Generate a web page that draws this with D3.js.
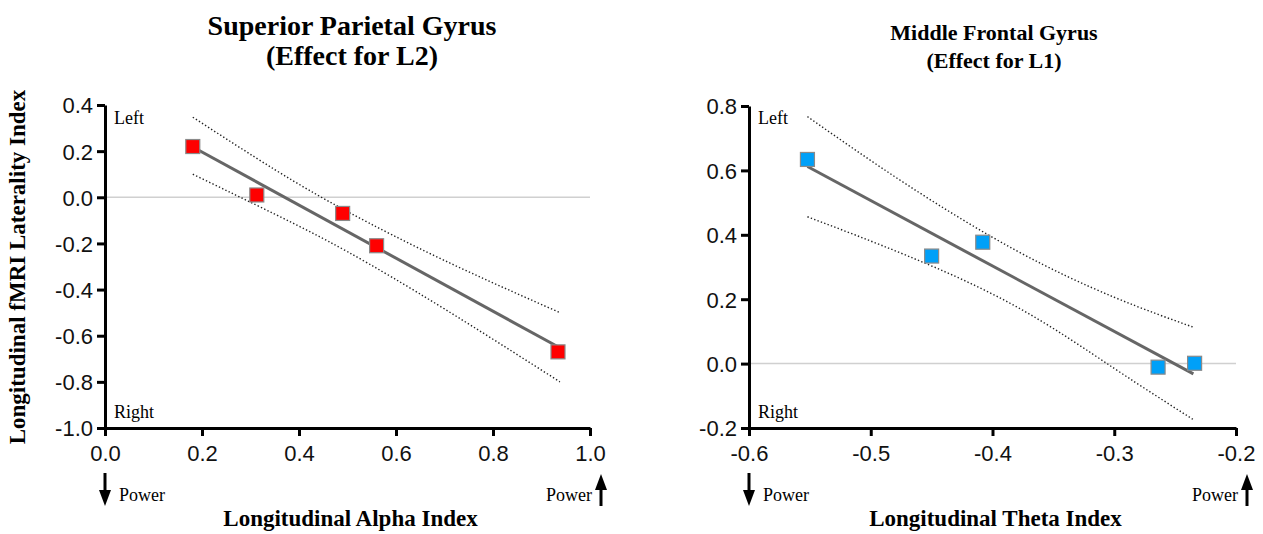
<!DOCTYPE html>
<html>
<head>
<meta charset="utf-8">
<script src="https://cdn.jsdelivr.net/npm/d3@7"></script>
<style>
  body { margin: 0; background: #fff; }
  svg { display: block; }
  .serif { font-family: "Liberation Serif", "DejaVu Serif", serif; }
  .tick text { font-family: "Liberation Sans", Arial, sans-serif; font-size: 22px; fill: #111; }
</style>
</head>
<body>
<svg id="chart" width="1263" height="534"></svg>
<script>
// left panel: Superior Parietal Gyrus (L2)
var alphaX = [0.181, 0.313, 0.49, 0.56, 0.934];
var alphaY = [0.22, 0.01, -0.07, -0.21, -0.67];
var alphaFit = [[0.181, 0.218], [0.934, -0.648]];
var alphaUpper = [[0.181, 0.347], [0.35, 0.12], [0.5, -0.062], [0.7, -0.274], [0.938, -0.50]];
var alphaLower = [[0.181, 0.10], [0.35, -0.073], [0.5, -0.236], [0.7, -0.484], [0.938, -0.80]];
var alphaXTicks = [0, 0.2, 0.4, 0.6, 0.8, 1.0];
var alphaYTicks = [0.4, 0.2, 0, -0.2, -0.4, -0.6, -0.8, -1.0];

// right panel: Middle Frontal Gyrus (L1)
var thetaX = [-0.552, -0.45, -0.408, -0.264, -0.234];
var thetaY = [0.634, 0.334, 0.377, -0.011, 0.001];
var thetaFit = [[-0.552, 0.612], [-0.235, -0.032]];
var thetaUpper = [[-0.552, 0.767], [-0.47, 0.555], [-0.38, 0.35], [-0.30, 0.206], [-0.235, 0.113]];
var thetaLower = [[-0.552, 0.456], [-0.47, 0.335], [-0.38, 0.176], [-0.30, -0.015], [-0.235, -0.174]];
var thetaXTicks = [-0.6, -0.5, -0.4, -0.3, -0.2];
var thetaYTicks = [0.8, 0.6, 0.4, 0.2, 0, -0.2];

var svg = d3.select("#chart");
var fmt = d => d3.format(".1f")(d).replace("\u2212", "-");

function drawPanel(opt) {
    var x = d3.scaleLinear().domain(opt.xDomain).range([opt.left, opt.right]);
    var y = d3.scaleLinear().domain(opt.yDomain).range([opt.bottom, opt.top]);
    var g = svg.append("g");

    // zero line
    g.append("line")
        .attr("x1", x(opt.xDomain[0])).attr("x2", x(opt.xDomain[1]))
        .attr("y1", y(0)).attr("y2", y(0))
        .attr("stroke", "#d0d0d0").attr("stroke-width", 1.5);

    var line = d3.line().x(d => x(d[0])).y(d => y(d[1]));
    var curve = d3.line().x(d => x(d[0])).y(d => y(d[1])).curve(d3.curveNatural);

    for (let band of [opt.upper, opt.lower]) {
        g.append("path").attr("d", curve(band))
            .attr("fill", "none").attr("stroke", "#222")
            .attr("stroke-width", 1.4).attr("stroke-dasharray", "1.4,2.2");
    }

    g.append("path").attr("d", line(opt.fit))
        .attr("fill", "none").attr("stroke", "#666").attr("stroke-width", 3);

    var pts = opt.xs.map((v, i) => [v, opt.ys[i]]);
    g.selectAll("rect.pt").data(pts).enter().append("rect")
        .attr("class", "pt")
        .attr("x", d => x(d[0]) - 7).attr("y", d => y(d[1]) - 7)
        .attr("width", 14).attr("height", 14)
        .attr("fill", opt.color).attr("stroke", "#8a8a8a").attr("stroke-width", 1.2);

    // axes
    var ax = g.append("g").attr("transform", "translate(0," + opt.bottom + ")")
        .call(d3.axisBottom(x).tickValues(opt.xTicks).tickFormat(fmt).tickSize(8).tickSizeOuter(0).tickPadding(9));
    var ay = g.append("g").attr("transform", "translate(" + opt.left + ",0)")
        .call(d3.axisLeft(y).tickValues(opt.yTicks).tickFormat(fmt).tickSize(8).tickSizeOuter(0).tickPadding(4));
    for (let a of [ax, ay]) {
        a.select(".domain").attr("stroke", "#000").attr("stroke-width", 3);
        a.selectAll(".tick line").attr("stroke", "#000").attr("stroke-width", 3);
    }
    ax.selectAll(".tick text").attr("dy", "0.71em");
    ay.selectAll(".tick text").attr("dy", "0.36em");

    // titles
    var cx = (opt.left + opt.right) / 2;
    opt.title.forEach((t, i) => {
        g.append("text").attr("class", "serif")
            .attr("x", opt.titleX).attr("y", opt.titleY[i])
            .attr("text-anchor", "middle").attr("font-weight", "bold")
            .attr("font-size", opt.titleSize).text(t);
    });
    g.append("text").attr("class", "serif")
        .attr("x", cx + 3).attr("y", 526).attr("text-anchor", "middle")
        .attr("font-weight", "bold").attr("font-size", 23).text(opt.xLabel);

    // Left / Right notes
    g.append("text").attr("class", "serif").attr("x", opt.left + 9).attr("y", 124)
        .attr("font-size", 18).text("Left");
    g.append("text").attr("class", "serif").attr("x", opt.left + 9).attr("y", 418)
        .attr("font-size", 18).text("Right");

    // power arrows
    var xl = x(opt.xDomain[0]), xr = x(opt.xDomain[1]);
    g.append("line").attr("x1", xl).attr("x2", xl).attr("y1", 473).attr("y2", 492)
        .attr("stroke", "#000").attr("stroke-width", 3);
    g.append("path").attr("d", "M" + (xl - 6) + ",490 L" + (xl + 6) + ",490 L" + xl + ",506 Z").attr("fill", "#000");
    g.append("text").attr("class", "serif").attr("x", xl + 14).attr("y", 501)
        .attr("font-size", 18).text("Power");

    var xa = xr + 11;
    g.append("line").attr("x1", xa).attr("x2", xa).attr("y1", 488).attr("y2", 506)
        .attr("stroke", "#000").attr("stroke-width", 3);
    g.append("path").attr("d", "M" + (xa - 6) + ",490 L" + (xa + 6) + ",490 L" + xa + ",474 Z").attr("fill", "#000");
    g.append("text").attr("class", "serif").attr("x", xr + 2).attr("y", 501)
        .attr("text-anchor", "end").attr("font-size", 18).text("Power");

    return g;
}

drawPanel({
    xDomain: [0, 1], yDomain: [-1, 0.4],
    left: 105, right: 590, top: 105, bottom: 428,
    xs: alphaX, ys: alphaY, fit: alphaFit, upper: alphaUpper, lower: alphaLower,
    xTicks: alphaXTicks, yTicks: alphaYTicks, color: "#ff0000",
    title: ["Superior Parietal Gyrus", "(Effect for L2)"], titleX: 352, titleY: [35, 65], titleSize: 28,
    xLabel: "Longitudinal Alpha Index"
});

drawPanel({
    xDomain: [-0.6, -0.2], yDomain: [-0.2, 0.8],
    left: 749, right: 1236, top: 106, bottom: 428,
    xs: thetaX, ys: thetaY, fit: thetaFit, upper: thetaUpper, lower: thetaLower,
    xTicks: thetaXTicks, yTicks: thetaYTicks, color: "#00a0f8",
    title: ["Middle Frontal Gyrus", "(Effect for L1)"], titleX: 994, titleY: [40, 68], titleSize: 22,
    xLabel: "Longitudinal Theta Index"
});

// y axis label (left panel only)
svg.append("text").attr("class", "serif")
    .attr("transform", "translate(25,267) rotate(-90)")
    .attr("text-anchor", "middle").attr("font-weight", "bold").attr("font-size", 23)
    .text("Longitudinal fMRI Laterality Index");
</script>
</body>
</html>
